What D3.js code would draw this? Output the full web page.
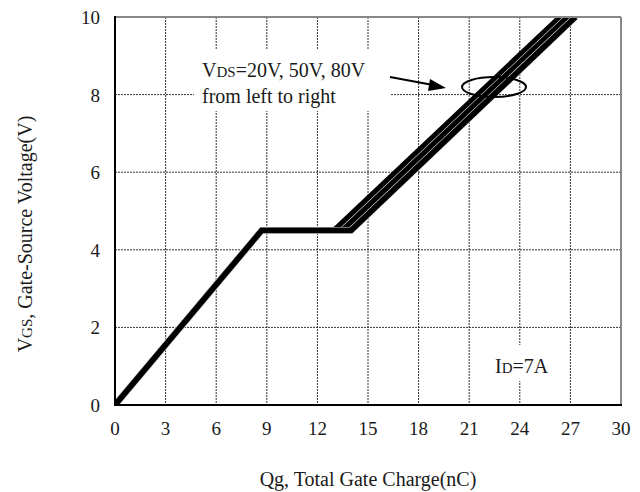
<!DOCTYPE html>
<html>
<head>
<meta charset="utf-8">
<script src="https://cdn.jsdelivr.net/npm/d3@7"></script>
<style>
  body { margin: 0; background: #fff; }
</style>
</head>
<body>
<svg id="chart" width="640" height="492" font-family="'Liberation Serif', 'Times New Roman', Times, serif"></svg>
<script>
"use strict";

// === Data ===
const seriesNames = ["20V", "50V", "80V"];
const qg20 = [0, 8.7, 13.0, 26.4];
const qg50 = [0, 8.7, 13.5, 26.85];
const qg80 = [0, 8.7, 14.0, 27.3];
const vgs = [0, 4.5, 4.5, 10];
const xTicks = [0, 3, 6, 9, 12, 15, 18, 21, 24, 27, 30];
const yTicks = [0, 2, 4, 6, 8, 10];

const svg = d3.select("#chart");
const plotL = 115, plotR = 621, plotT = 17, plotB = 405;
const ink = "#1a1a1a";

const x = d3.scaleLinear().domain([0, 30]).range([plotL, plotR]);
const y = d3.scaleLinear().domain([0, 10]).range([plotB, plotT]);

svg.append("clipPath").attr("id", "plotclip")
  .append("rect").attr("x", plotL).attr("y", plotT)
  .attr("width", plotR - plotL).attr("height", plotB - plotT);

// === Grid (dotted) ===
svg.append("g").selectAll("line").data(xTicks.slice(1, -1)).join("line")
  .attr("x1", d => x(d)).attr("x2", d => x(d))
  .attr("y1", plotT).attr("y2", plotB)
  .attr("stroke", "#333").attr("stroke-width", 1).attr("stroke-dasharray", "2,1");
svg.append("g").selectAll("line").data(yTicks.slice(1, -1)).join("line")
  .attr("x1", plotL).attr("x2", plotR)
  .attr("y1", d => y(d)).attr("y2", d => y(d))
  .attr("stroke", "#333").attr("stroke-width", 1).attr("stroke-dasharray", "2,1");

// === Curves (black with a thin white casing, so the three stay apart) ===
const line = d3.line().x(d => x(d[0])).y(d => y(d[1]));
const curves = svg.append("g").attr("clip-path", "url(#plotclip)");
[qg20, qg50, qg80].forEach((qs, i) => {
  const pts = qs.map((q, j) => [q, vgs[j]]);
  if (i > 0) {
    curves.append("path").datum(pts).attr("d", line)
      .attr("fill", "none").attr("stroke", "#ddd")
      .attr("stroke-width", 7).attr("stroke-linejoin", "miter");
  }
  curves.append("path").datum(pts)
    .attr("class", "vds-" + seriesNames[i])
    .attr("d", line)
    .attr("fill", "none").attr("stroke", "#000")
    .attr("stroke-width", 5.8).attr("stroke-linejoin", "miter");
});

// === Frame: gray top/right, black left/bottom ===
svg.append("line").attr("x1", plotL).attr("x2", plotR).attr("y1", plotT).attr("y2", plotT)
  .attr("stroke", "#888").attr("stroke-width", 2);
svg.append("line").attr("x1", plotR).attr("x2", plotR).attr("y1", plotT).attr("y2", plotB)
  .attr("stroke", "#888").attr("stroke-width", 2);
svg.append("line").attr("x1", plotL).attr("x2", plotL).attr("y1", plotT - 1).attr("y2", plotB + 1)
  .attr("stroke", "#000").attr("stroke-width", 2);
svg.append("line").attr("x1", plotL - 1).attr("x2", plotR + 1).attr("y1", plotB).attr("y2", plotB)
  .attr("stroke", "#000").attr("stroke-width", 2);

// === Tick labels ===
svg.append("g").selectAll("text").data(xTicks).join("text")
  .attr("x", d => x(d)).attr("y", 435).attr("fill", ink)
  .attr("text-anchor", "middle").attr("font-size", 19)
  .text(d => d);
svg.append("g").selectAll("text").data(yTicks).join("text")
  .attr("x", 100).attr("y", d => y(d) + 7).attr("fill", ink)
  .attr("text-anchor", "end").attr("font-size", 19)
  .text(d => d);

// === Axis titles ===
svg.append("text").attr("x", 368).attr("y", 486).attr("fill", ink)
  .attr("text-anchor", "middle").attr("font-size", 20)
  .text("Qg, Total Gate Charge(nC)");
const yt = svg.append("text").attr("fill", ink)
  .attr("transform", "translate(32,234) rotate(-90)")
  .attr("text-anchor", "middle").attr("font-size", 20);
yt.append("tspan").text("V");
yt.append("tspan").attr("font-size", 15).text("GS");
yt.append("tspan").text(", Gate-Source Voltage(V)");

// === Annotation: VDS ===
svg.append("rect").attr("x", 194).attr("y", 50).attr("width", 196).attr("height", 61)
  .attr("fill", "#fff");
const t1 = svg.append("text").attr("x", 202).attr("y", 77).attr("font-size", 20).attr("fill", ink);
t1.append("tspan").text("V");
t1.append("tspan").attr("font-size", 15).text("DS");
t1.append("tspan").text("=20V, 50V, 80V");
svg.append("text").attr("x", 202).attr("y", 103).attr("font-size", 20).attr("fill", ink)
  .text("from left to right");

// arrow
svg.append("line").attr("x1", 390).attr("y1", 77).attr("x2", 433).attr("y2", 85)
  .attr("stroke", "#000").attr("stroke-width", 2);
svg.append("path").attr("d", "M446,88 L430,79 L428,91 Z").attr("fill", "#000");

// ellipse around the lines
svg.append("ellipse").attr("cx", 494).attr("cy", 87).attr("rx", 32).attr("ry", 10)
  .attr("fill", "none").attr("stroke", "#000").attr("stroke-width", 2);

// === Annotation: ID ===
svg.append("rect").attr("x", 488).attr("y", 345).attr("width", 66).attr("height", 36)
  .attr("fill", "#fff");
const t2 = svg.append("text").attr("x", 495).attr("y", 373).attr("font-size", 20).attr("fill", ink);
t2.append("tspan").text("I");
t2.append("tspan").attr("font-size", 15).text("D");
t2.append("tspan").text("=7A");
</script>
</body>
</html>
